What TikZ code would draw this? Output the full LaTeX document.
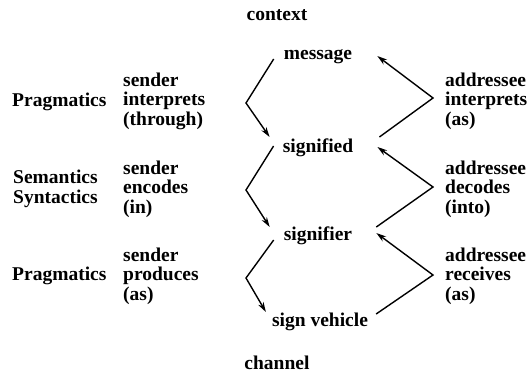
\documentclass[tikz,border=0pt]{standalone}
\usepackage{fontspec}
\setmainfont{Liberation Serif}
\usetikzlibrary{arrows.meta}
\begin{document}
\begin{tikzpicture}[x=1pt,y=-1pt,
  lbl/.style={inner sep=0pt,font=\fontsize{19.5}{19.5}\selectfont\bfseries},
  col/.style={lbl,align=left,anchor=west},
  arr/.style={line width=1.4pt,-{Stealth[length=10pt,width=6pt]}}]
\useasboundingbox (0,0) rectangle (527,378);
% central nodes
\node[lbl] (context) at (277,15) {context};
\node[lbl] (message) at (318,57) {message};
\node[lbl] (signified) at (318,148) {signified};
\node[lbl] (signifier) at (318,236) {signifier};
\node[lbl] (vehicle) at (320,322) {sign vehicle};
\node[lbl] (channel) at (277,363) {channel};
% left labels
\node[col] (prag1) at (12,102) {Pragmatics};
\node[col] (sem) at (13,189) {Semantics\\Syntactics};
\node[col] (prag2) at (12,276) {Pragmatics};
\node[col] (s1) at (123,101) {sender\\interprets\\(through)};
\node[col] (s2) at (123,189) {sender\\encodes\\(in)};
\node[col] (s3) at (123,276) {sender\\produces\\(as)};
% right labels
\node[col] (a1) at (445,101) {addressee\\interprets\\(as)};
\node[col] (a2) at (445,189) {addressee\\decodes\\(into)};
\node[col] (a3) at (445,276) {addressee\\receives\\(as)};
% vertices
\coordinate (vl1) at (246,103);
\coordinate (vr1) at (433,98);
\coordinate (vl2) at (246,190);
\coordinate (vr2) at (433,187);
\coordinate (vl3) at (246,278);
\coordinate (vr3) at (433,275);
% connectors
\draw[arr] ([shift={(-10,2)}]message.west) -- (vl1) -- ([shift={(-13,-11)}]signified.west);
\draw[arr] ([shift={(26,-11)}]signified.east) -- (vr1) -- ([shift={(25,-1)}]message.east);
\draw[arr] ([shift={(-9,-2)}]signified.west) -- (vl2) -- ([shift={(-14,-9)}]signifier.west);
\draw[arr] ([shift={(24,-9)}]signifier.east) -- (vr2) -- ([shift={(24,-1)}]signified.east);
\draw[arr] ([shift={(-10,4)}]signifier.west) -- (vl3) -- ([shift={(-6,-10)}]vehicle.west);
\draw[arr] ([shift={(8,-8)}]vehicle.east) -- (vr3) -- ([shift={(24,-3)}]signifier.east);
\end{tikzpicture}
\end{document}
